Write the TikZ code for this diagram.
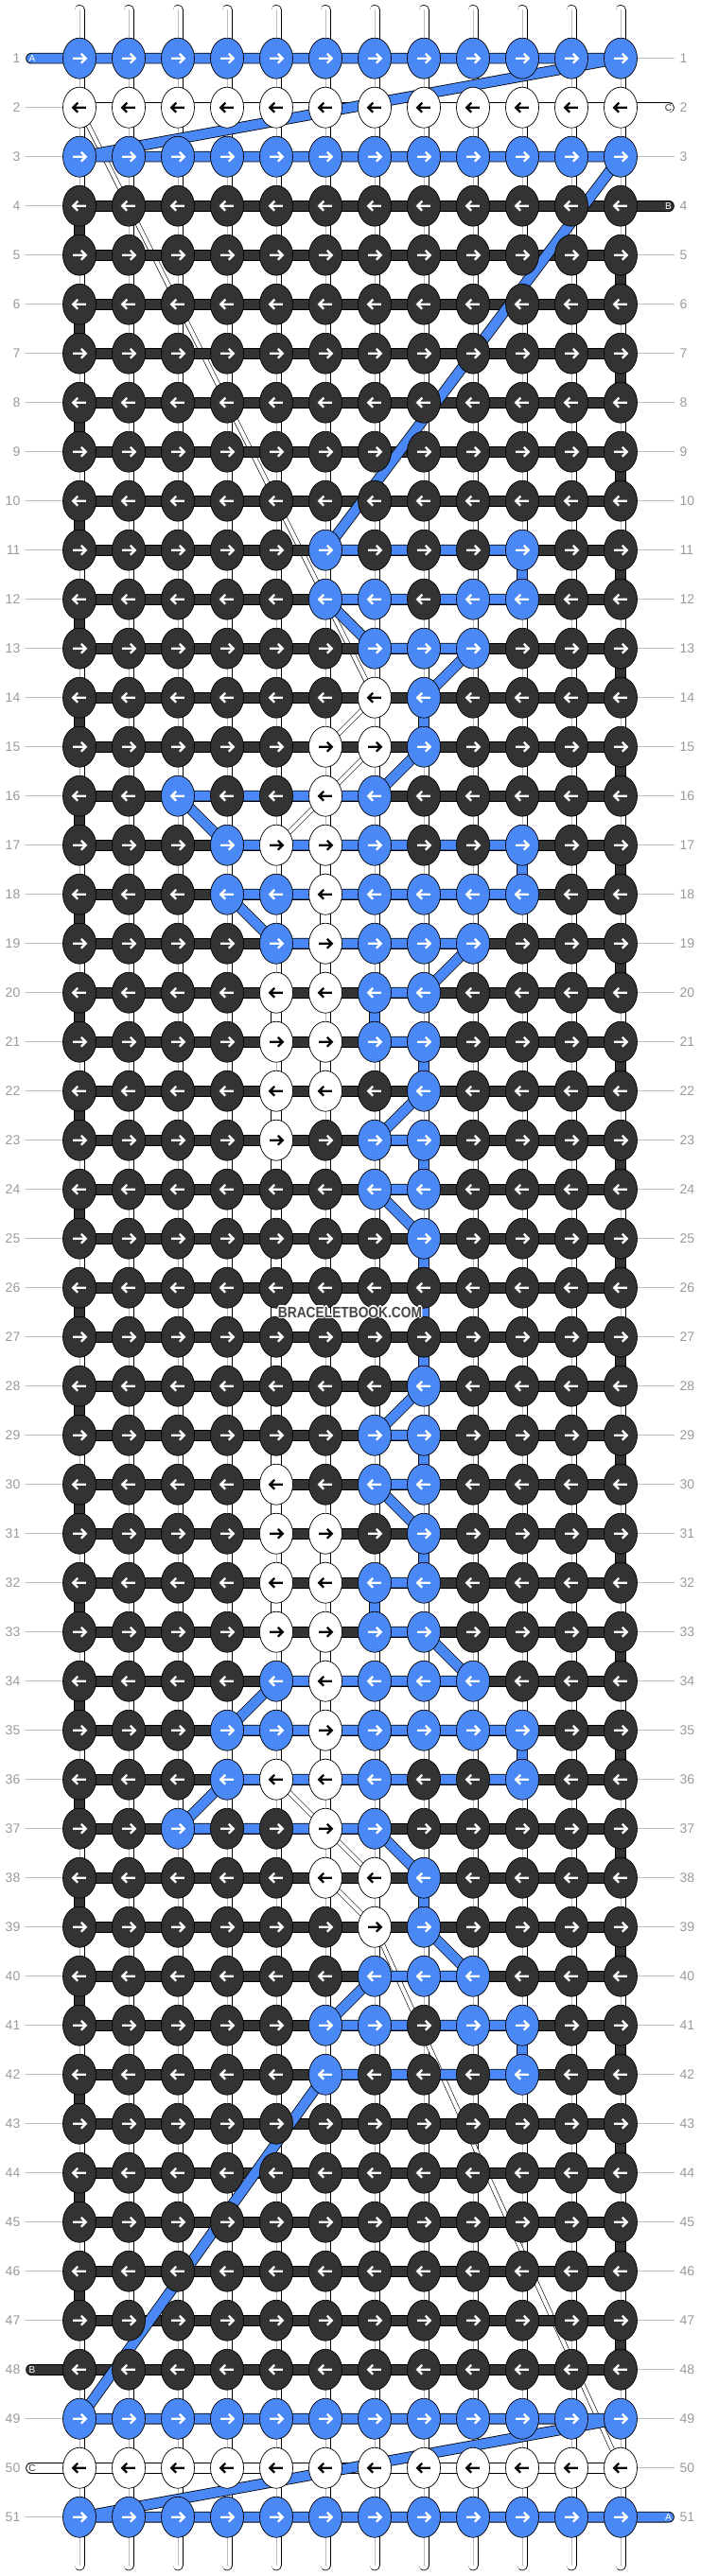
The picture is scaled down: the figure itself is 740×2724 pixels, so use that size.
\documentclass[tikz,border=0pt]{standalone}
\usepackage{fontspec}
\setmainfont{Liberation Sans}
\usepackage{tikz}
\usetikzlibrary{shapes.geometric}
\definecolor{threadA}{HTML}{4A89F5}
\definecolor{threadB}{HTML}{333333}
\definecolor{rowgray}{HTML}{9A9A9A}
\definecolor{linegray}{HTML}{BDBDBD}
\pgfdeclarelayer{base}
\pgfdeclarelayer{strands}
\pgfsetlayers{base,strands,main}
\newcommand{\sitename}{\scalebox{0.86}[1]{BRACELETBOOK.COM}}
\tikzstyle{every node}=[font=\fontsize{14}{14}\selectfont]
\tikzstyle{knot}=[ellipse, draw=black, line width=0.7pt, inner sep=0pt, minimum width=35pt, minimum height=43pt]
\tikzstyle{knot b}=[knot, fill=threadA]
\tikzstyle{knot d}=[knot, fill=threadB]
\tikzstyle{knot w}=[knot, fill=white]
\tikzstyle{arr}=[line width=2.3pt, line join=miter]
\tikzstyle{arr b}=[arr, draw=white]
\tikzstyle{arr d}=[arr, draw=white]
\tikzstyle{arr w}=[arr, draw=black]
\tikzstyle{strand}=[draw=black, line width=0.8pt, line cap=round, line join=round]
\tikzstyle{strand A}=[strand, double=threadA, double distance=10pt]
\tikzstyle{strand B}=[strand, double=threadB, double distance=10pt]
\tikzstyle{strand C}=[strand, double=white, double distance=10pt]
\tikzstyle{strand C thin}=[draw=black, line width=0.6pt, double=white, double distance=4pt, line cap=round, line join=round]
\tikzstyle{warp}=[draw=black, line width=0.7pt, double=white, double distance=9.6pt, line cap=round]
\tikzstyle{warp core}=[draw=linegray, line width=1pt]
\tikzstyle{rowline}=[draw=linegray, line width=1pt]
\tikzstyle{rowlab}=[inner sep=0pt, text=rowgray]
\tikzstyle{taillab}=[inner sep=0pt, font=\fontsize{10}{10}\selectfont]
\tikzstyle{sitetext}=[inner sep=0pt, font=\bfseries\fontsize{16}{16}\selectfont]

\begin{document}
\begin{tikzpicture}[x=1pt, y=-1pt]
\useasboundingbox (0,0) rectangle (740,2724);

\foreach \rowdata [count=\r] in {
 {b,b,b,b,b,b,b,b,b,b,b,b},
 {w,w,w,w,w,w,w,w,w,w,w,w},
 {b,b,b,b,b,b,b,b,b,b,b,b},
 {d,d,d,d,d,d,d,d,d,d,d,d},
 {d,d,d,d,d,d,d,d,d,d,d,d},
 {d,d,d,d,d,d,d,d,d,d,d,d},
 {d,d,d,d,d,d,d,d,d,d,d,d},
 {d,d,d,d,d,d,d,d,d,d,d,d},
 {d,d,d,d,d,d,d,d,d,d,d,d},
 {d,d,d,d,d,d,d,d,d,d,d,d},
 {d,d,d,d,d,b,d,d,d,b,d,d},
 {d,d,d,d,d,b,b,d,b,b,d,d},
 {d,d,d,d,d,d,b,b,b,d,d,d},
 {d,d,d,d,d,d,w,b,d,d,d,d},
 {d,d,d,d,d,w,w,b,d,d,d,d},
 {d,d,b,d,d,w,b,d,d,d,d,d},
 {d,d,d,b,w,w,b,d,d,b,d,d},
 {d,d,d,b,b,w,b,b,b,b,d,d},
 {d,d,d,d,b,w,b,b,b,d,d,d},
 {d,d,d,d,w,w,b,b,d,d,d,d},
 {d,d,d,d,w,w,b,b,d,d,d,d},
 {d,d,d,d,w,w,d,b,d,d,d,d},
 {d,d,d,d,w,d,b,b,d,d,d,d},
 {d,d,d,d,d,d,b,b,d,d,d,d},
 {d,d,d,d,d,d,d,b,d,d,d,d},
 {d,d,d,d,d,d,d,d,d,d,d,d},
 {d,d,d,d,d,d,d,d,d,d,d,d},
 {d,d,d,d,d,d,d,b,d,d,d,d},
 {d,d,d,d,d,d,b,b,d,d,d,d},
 {d,d,d,d,w,d,b,b,d,d,d,d},
 {d,d,d,d,w,w,d,b,d,d,d,d},
 {d,d,d,d,w,w,b,b,d,d,d,d},
 {d,d,d,d,w,w,b,b,d,d,d,d},
 {d,d,d,d,b,w,b,b,b,d,d,d},
 {d,d,d,b,b,w,b,b,b,b,d,d},
 {d,d,d,b,w,w,b,d,d,b,d,d},
 {d,d,b,d,d,w,b,d,d,d,d,d},
 {d,d,d,d,d,w,w,b,d,d,d,d},
 {d,d,d,d,d,d,w,b,d,d,d,d},
 {d,d,d,d,d,d,b,b,b,d,d,d},
 {d,d,d,d,d,b,b,d,b,b,d,d},
 {d,d,d,d,d,b,d,d,d,b,d,d},
 {d,d,d,d,d,d,d,d,d,d,d,d},
 {d,d,d,d,d,d,d,d,d,d,d,d},
 {d,d,d,d,d,d,d,d,d,d,d,d},
 {d,d,d,d,d,d,d,d,d,d,d,d},
 {d,d,d,d,d,d,d,d,d,d,d,d},
 {d,d,d,d,d,d,d,d,d,d,d,d},
 {b,b,b,b,b,b,b,b,b,b,b,b},
 {w,w,w,w,w,w,w,w,w,w,w,w},
 {b,b,b,b,b,b,b,b,b,b,b,b}}{
  \pgfmathsetmacro\dir{ifthenelse(isodd(\r),1,-1)}
  \foreach \k [count=\c] in \rowdata {
    \node[knot \k] (k-\r-\c) at ({84+52*(\c-1)},{61.7+52*(\r-1)}) {};
    \draw[arr \k] (k-\r-\c.center) ++(-6.8*\dir,0) -- ++(13.6*\dir,0) ++(-5*\dir,-5) -- ++(5*\dir,5) -- ++(-5*\dir,5);
  }
  \node[rowlab, anchor=east] (ln-\r) at (21.5,{61.7+52*(\r-1)}) {\r};
  \node[rowlab, anchor=west] (rn-\r) at (718.5,{61.7+52*(\r-1)}) {\r};
  \coordinate (ll-\r) at (26.7,{61.7+52*(\r-1)});
  \coordinate (rl-\r) at (713.3,{61.7+52*(\r-1)});
}

\coordinate (a-in) at (33,61.7);
\coordinate (a-out) at (707,2661.7);
\coordinate (b-in) at (707,217.7);
\coordinate (b-out) at (33,2505.7);
\coordinate (c-in) at (707,113.7);
\coordinate (c-out) at (33,2609.7);
\node[taillab, text=white] (a-lab1) at (34,61.7) {A};
\node[taillab, text=white] (a-lab2) at (706.5,2661.7) {A};
\node[taillab, text=white] (b-lab1) at (706.5,217.7) {B};
\node[taillab, text=white] (b-lab2) at (34,2505.7) {B};
\node[taillab, text=threadB] (c-lab1) at (706.5,113.7) {C};
\node[taillab, text=threadB] (c-lab2) at (34,2609.7) {C};

\foreach \dx/\dy [count=\i] in {-1.2/0,1.2/0,0/-1.2,0/1.2,-0.8/-0.8,0.8/0.8,-0.8/0.8,0.8/-0.8}
  \node[sitetext, text=white] (site-halo\i) at (370+\dx,1387.5+\dy) {\sitename};
\node[sitetext, text=threadB!90!white] (site) at (370,1387.5) {\sitename};

\begin{pgfonlayer}{base}
  \fill[white] (0,0) rectangle (740,2724);
  \foreach \c in {1,...,12}{
    \coordinate (top-\c) at ({84+52*(\c-1)},10.5);
    \coordinate (bot-\c) at ({84+52*(\c-1)},2712.8);
    \draw[warp] (top-\c) -- (bot-\c);
    \draw[warp core] (top-\c) -- (bot-\c);
  }
  \foreach \r in {1,...,51}{
    \ifnum\r=1 \else\ifnum\r=48 \else\ifnum\r=50 \else
      \draw[rowline] (ll-\r) -- (k-\r-1.center);
    \fi\fi\fi
    \ifnum\r=2 \else\ifnum\r=4 \else\ifnum\r=51 \else
      \draw[rowline] (k-\r-12.center) -- (rl-\r);
    \fi\fi\fi
  }
\end{pgfonlayer}

\begin{pgfonlayer}{strands}
  \draw[strand C] (c-in) -- (k-2-12.center) -- (k-2-1.center);
  \draw[strand C thin] (k-2-1.center) \foreach \c/\r in {7/14,6/15,7/15,6/16,5/17,6/17,6/18,6/19,6/20,5/20,5/21,6/21,6/22,5/22,5/23,5/30,5/31,6/31,6/32,5/32,5/33,6/33,6/34,6/35,6/36,5/36,6/37,7/38,6/38,7/39,12/50} { -- (k-\r-\c.center) };
  \foreach \c/\r/\s in {6/17/18,6/18/19,6/19/20,5/20/21,6/21/22,5/22/23,5/23/30,5/30/31,6/31/32,5/32/33,6/33/34,6/34/35,6/35/36}
    \draw[strand C] (k-\r-\c.center) -- (k-\s-\c.center);
  \draw[strand C] (k-50-12.center) -- (k-50-1.center) -- (c-out);
  \draw[strand B] (b-in) \foreach \r [evaluate=\r as \ca using {int(ifthenelse(isodd(\r),1,12))}, evaluate=\r as \cb using {int(ifthenelse(isodd(\r),12,1))}] in {4,...,48} { -- (k-\r-\ca.center) -- (k-\r-\cb.center) } -- (b-out);
  \draw[strand A] (a-in) \foreach \c/\r in {1/1,12/1,1/3,12/3,6/11,10/11,10/12,6/12,7/13,9/13,8/14,8/15,7/16,3/16,4/17,10/17,10/18,4/18,5/19,9/19,8/20,7/20,7/21,8/21,8/22,7/23,8/23,8/24,7/24,8/25,8/28,7/29,8/29,8/30,7/30,8/31,8/32,7/32,7/33,8/33,9/34,5/34,4/35,10/35,10/36,4/36,3/37,7/37,8/38,8/39,9/40,7/40,6/41,10/41,10/42,6/42,1/49,12/49,1/51,12/51} { -- (k-\r-\c.center) } -- (a-out);
\end{pgfonlayer}
\end{tikzpicture}
\end{document}
